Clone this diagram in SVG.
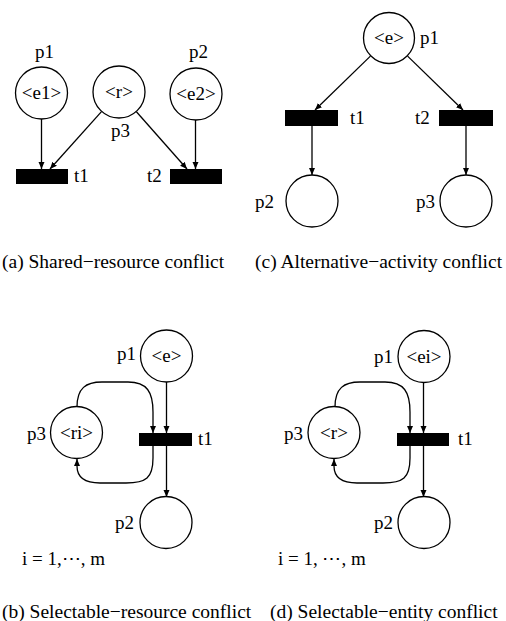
<svg xmlns="http://www.w3.org/2000/svg" width="506" height="621" viewBox="0 0 506 621">
<style>
  .pl { fill: #fff; stroke: #000; stroke-width: 1.3; }
  .tr { fill: #000; stroke: none; }
  .arc { fill: none; stroke: #000; stroke-width: 1.3; marker-end: url(#ah); }
  text { font-family: 'Liberation Serif', 'DejaVu Serif', serif; font-size: 19px; fill: #000; }
  .c { text-anchor: middle; }
  .cap { font-size: 19.5px; }
</style>
<defs>
  <marker id="ah" markerWidth="8" markerHeight="7" refX="7" refY="3" orient="auto" markerUnits="userSpaceOnUse">
    <path d="M0,0 L7,3 L0,6 z" fill="#000"/>
  </marker>
</defs>
<rect width="506" height="621" fill="#fff"/>

<g id="connectors">
  <line class="arc" x1="41.5" y1="119" x2="41.5" y2="169"/>
  <line class="arc" x1="101.7" y1="111.4" x2="50" y2="169"/>
  <line class="arc" x1="136.2" y1="111.5" x2="187" y2="169"/>
  <line class="arc" x1="195.5" y1="120" x2="195.5" y2="169"/>
  <line class="arc" x1="370.4" y1="56.1" x2="315" y2="110"/>
  <line class="arc" x1="407.6" y1="56.1" x2="463" y2="110"/>
  <line class="arc" x1="312" y1="126" x2="312" y2="175"/>
  <line class="arc" x1="466" y1="126" x2="466" y2="175"/>
  <line class="arc" x1="166.5" y1="382" x2="166.5" y2="433"/>
  <line class="arc" x1="166.5" y1="446" x2="166.5" y2="497"/>
  <path class="arc" d="M77,407 C77,388 86,382 102,382 L128,382 C147,382 153,392 153,412 L153,433"/>
  <path class="arc" d="M153,446 L153,458 C153,478 146,483 126,483 L100,483 C84,483 77,477 77,466 L77,459"/>
  <line class="arc" x1="423.5" y1="383" x2="423.5" y2="433"/>
  <line class="arc" x1="423.5" y1="446" x2="423.5" y2="497"/>
  <path class="arc" d="M335,407 C335,388 344,382 360,382 L385,382 C404,382 410,392 410,412 L410,433"/>
  <path class="arc" d="M410,446 L410,458 C410,478 403,483 383,483 L357,483 C341,483 334,477 334,466 L334,459"/>
</g>

<g id="a-p1"><circle class="pl" cx="41.5" cy="93" r="26"/><text class="c" x="41.5" y="99">&lt;e1&gt;</text><text x="35" y="58">p1</text></g>
<g id="a-p3"><circle class="pl" cx="119" cy="92" r="26"/><text class="c" x="119" y="98">&lt;r&gt;</text><text x="111" y="137">p3</text></g>
<g id="a-p2"><circle class="pl" cx="196" cy="94" r="26"/><text class="c" x="196" y="100">&lt;e2&gt;</text><text x="189" y="58">p2</text></g>
<g id="a-t1"><rect class="tr" x="16" y="169" width="52" height="15"/><text x="74" y="182">t1</text></g>
<g id="a-t2"><rect class="tr" x="170" y="169" width="52" height="15"/><text x="147" y="182">t2</text></g>

<g id="c-p1"><circle class="pl" cx="389" cy="38" r="25.5"/><text class="c" x="389" y="44">&lt;e&gt;</text><text x="420" y="44">p1</text></g>
<g id="c-t1"><rect class="tr" x="285" y="110" width="53" height="16"/><text x="350" y="124">t1</text></g>
<g id="c-t2"><rect class="tr" x="439" y="110" width="54" height="16"/><text x="415" y="124">t2</text></g>
<g id="c-p2"><circle class="pl" cx="312" cy="201" r="26"/><text x="255" y="208">p2</text></g>
<g id="c-p3"><circle class="pl" cx="466" cy="201" r="26"/><text x="416" y="208">p3</text></g>

<g id="b-p1"><circle class="pl" cx="166.5" cy="356" r="26"/><text class="c" x="166.5" y="362">&lt;e&gt;</text><text x="117" y="360">p1</text></g>
<g id="b-p3"><circle class="pl" cx="76.5" cy="432.5" r="26"/><text class="c" x="76.5" y="439">&lt;ri&gt;</text><text x="27" y="440">p3</text></g>
<g id="b-t1"><rect class="tr" x="139" y="433" width="53" height="13"/><text x="198" y="445">t1</text></g>
<g id="b-p2"><circle class="pl" cx="166" cy="522.5" r="26"/><text x="115" y="529">p2</text></g>

<g id="d-p1"><circle class="pl" cx="424" cy="356.5" r="26"/><text class="c" x="424" y="363">&lt;ei&gt;</text><text x="374" y="363">p1</text></g>
<g id="d-p3"><circle class="pl" cx="334" cy="432.5" r="26"/><text class="c" x="334" y="439">&lt;r&gt;</text><text x="284" y="440">p3</text></g>
<g id="d-t1"><rect class="tr" x="397" y="433" width="52" height="13"/><text x="458" y="445">t1</text></g>
<g id="d-p2"><circle class="pl" cx="424" cy="522.5" r="26"/><text x="374" y="529">p2</text></g>

<text x="22" y="565">i = 1,⋯, m</text>
<text x="278" y="565">i = 1, ⋯, m</text>
<text class="cap" x="2" y="268">(a) Shared−resource conflict</text>
<text class="cap" x="255" y="268">(c) Alternative−activity conflict</text>
<text class="cap" x="2" y="618">(b) Selectable−resource conflict</text>
<text class="cap" x="270" y="618">(d) Selectable−entity conflict</text>
</svg>
